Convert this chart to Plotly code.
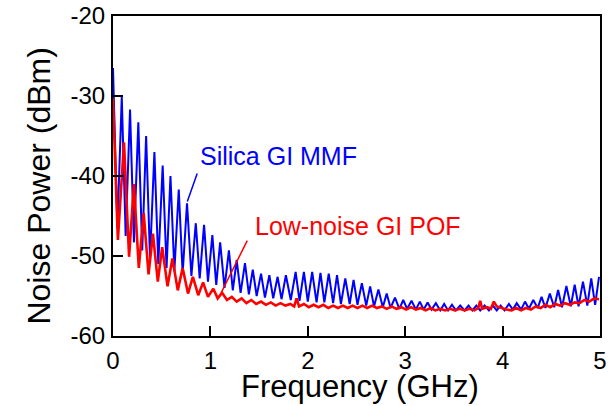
import plotly.graph_objects as go

# ---------------- data ----------------
# Silica GI MMF: start value, then ripple peaks and troughs
blue_start_f = [0.0]
blue_start_db = [-26.5]
blue_peak_f = [0.09, 0.175, 0.26, 0.34, 0.425, 0.51, 0.59, 0.675, 0.76, 0.85,
               0.935, 1.02, 1.10, 1.19, 1.27, 1.355, 1.435, 1.52, 1.605, 1.69,
               1.775, 1.875, 1.96, 2.045, 2.13, 2.215, 2.30, 2.385, 2.47, 2.555,
               2.64, 2.725, 2.81, 2.895, 2.98, 3.065, 3.15, 3.23, 3.315, 3.40,
               3.48, 3.565, 3.65, 3.73, 3.815, 3.90, 3.98, 4.065, 4.145, 4.23,
               4.315, 4.40, 4.485, 4.57, 4.655, 4.74, 4.825, 4.91, 4.99]
blue_peak_db = [-30.1, -31.7, -33.3, -35.0, -37.0, -38.7, -40.0, -41.7, -43.4, -45.9,
                -46.1, -47.4, -48.3, -49.3, -50.5, -50.9, -51.7, -52.2, -52.4, -52.6,
                -52.4, -52.0, -52.0, -52.0, -52.1, -52.2, -52.4, -52.8, -53.0, -53.4,
                -53.8, -54.2, -54.7, -55.2, -55.5, -55.6, -55.7, -55.8, -55.9, -56.0,
                -56.1, -56.2, -56.2, -56.2, -56.2, -56.2, -56.2, -56.0, -55.9, -55.7,
                -55.5, -55.1, -54.7, -54.25, -53.75, -53.6, -53.2, -52.8, -52.6]
blue_trough_f = [0.045, 0.13, 0.215, 0.30, 0.38, 0.465, 0.55, 0.63, 0.715, 0.805,
                 0.89, 0.975, 1.06, 1.145, 1.23, 1.31, 1.395, 1.475, 1.56, 1.645,
                 1.73, 1.825, 1.915, 2.0, 2.09, 2.17, 2.26, 2.34, 2.43, 2.51,
                 2.60, 2.68, 2.77, 2.85, 2.94, 3.02, 3.11, 3.19, 3.27, 3.36,
                 3.44, 3.52, 3.61, 3.69, 3.77, 3.86, 3.94, 4.02, 4.105, 4.19,
                 4.27, 4.36, 4.44, 4.53, 4.61, 4.70, 4.78, 4.87, 4.95]
blue_trough_db = [-46.5, -47.5, -48.3, -49.3, -50.3, -51.0, -51.5, -51.9, -52.2, -52.5,
                  -52.8, -53.2, -53.6, -54.0, -54.3, -54.6, -54.8, -55.0, -55.2, -55.3,
                  -55.4, -55.5, -55.6, -55.7, -55.8, -55.8, -55.9, -56.0, -56.0, -56.1,
                  -56.2, -56.3, -56.4, -56.5, -56.6, -56.6, -56.7, -56.7, -56.7, -56.8,
                  -56.8, -56.8, -56.8, -56.8, -56.8, -56.8, -56.8, -56.8, -56.7, -56.7,
                  -56.6, -56.5, -56.5, -56.4, -56.4, -56.3, -56.3, -56.2, -56.1]

# Low-noise GI POF
red_f = [0.0, 0.05, 0.113, 0.165, 0.215, 0.265, 0.315, 0.365, 0.41, 0.46,
         0.505, 0.56, 0.61, 0.665, 0.715, 0.77, 0.82, 0.875, 0.925, 0.975,
         1.03, 1.075, 1.12, 1.17, 1.22, 1.27, 1.32, 1.37, 1.42, 1.47,
         1.52, 1.57, 1.62, 1.67, 1.72, 1.77, 1.82, 1.86, 1.885, 1.91,
         1.96, 2.01, 2.06, 2.11, 2.16, 2.21, 2.26, 2.31, 2.36, 2.41,
         2.46, 2.51, 2.56, 2.61, 2.66, 2.71, 2.76, 2.81, 2.86, 2.91,
         2.96, 3.01, 3.06, 3.11, 3.16, 3.21, 3.26, 3.31, 3.36, 3.41,
         3.46, 3.51, 3.56, 3.61, 3.66, 3.71, 3.75, 3.77, 3.79, 3.84,
         3.88, 3.91, 3.94, 3.99, 4.04, 4.09, 4.14, 4.19, 4.24, 4.29,
         4.34, 4.39, 4.44, 4.49, 4.54, 4.59, 4.64, 4.69, 4.74, 4.79,
         4.84, 4.89, 4.94, 4.99]
red_db = [-30.3, -48.0, -35.8, -50.1, -41.0, -51.5, -44.6, -52.3, -47.2, -53.2,
          -48.9, -53.8, -50.3, -54.3, -51.5, -54.7, -52.6, -54.9, -53.3, -55.1,
          -54.1, -55.3, -54.6, -55.5, -55.1, -55.7, -55.3, -55.9, -55.5, -56.0,
          -55.7, -56.1, -55.8, -56.2, -55.9, -56.2, -56.0, -56.3, -55.3, -56.3,
          -56.0, -56.4, -56.1, -56.4, -56.1, -56.5, -56.2, -56.5, -56.2, -56.5,
          -56.2, -56.5, -56.2, -56.5, -56.2, -56.5, -56.3, -56.6, -56.3, -56.6,
          -56.4, -56.7, -56.4, -56.7, -56.5, -56.8, -56.5, -56.8, -56.6, -56.8,
          -56.6, -56.8, -56.6, -56.8, -56.6, -56.8, -56.5, -55.6, -56.6, -56.4,
          -56.6, -55.7, -56.3, -56.5, -56.7, -56.8, -56.5, -56.8, -56.5, -56.7,
          -56.3, -56.5, -56.1, -56.4, -56.0, -56.2, -55.9, -56.1, -55.8, -55.9,
          -55.5, -55.7, -55.3, -55.4]

x_ticks = [0, 1, 2, 3, 4, 5]
y_ticks = [-60, -50, -40, -30, -20]

# ---------------- build traces ----------------
blue_pts = sorted(zip(blue_start_f + blue_peak_f + blue_trough_f,
                      blue_start_db + blue_peak_db + blue_trough_db))
blue_x = [p[0] for p in blue_pts]
blue_y = [p[1] for p in blue_pts]

FONT = "Liberation Sans, Arial, sans-serif"

fig = go.Figure()
fig.add_trace(go.Scatter(x=blue_x, y=blue_y, mode="lines",
                         line=dict(color="#0000ff", width=2),
                         name="Silica GI MMF", showlegend=False))
fig.add_trace(go.Scatter(x=red_f, y=red_db, mode="lines",
                         line=dict(color="#ff0000", width=2.6),
                         name="Low-noise GI POF", showlegend=False))

axis_common = dict(showline=True, linecolor="black", linewidth=2, mirror=True,
                   ticks="inside", ticklen=10, tickwidth=2, tickcolor="black",
                   showgrid=False, zeroline=False, automargin=False,
                   ticklabeloverflow="allow",
                   tickfont=dict(family=FONT, size=24, color="black"))

fig.update_xaxes(range=[0, 5], tickvals=x_ticks, ticktext=[str(v) for v in x_ticks],
                 ticklabelstandoff=2, **axis_common)
fig.update_yaxes(range=[-60, -20], tickvals=y_ticks, ticktext=[str(v) for v in y_ticks],
                 ticklabelstandoff=1, **axis_common)

fig.update_layout(
    width=610, height=406,
    margin=dict(l=113, r=10, t=16, b=70, autoexpand=False),
    paper_bgcolor="white", plot_bgcolor="white",
    font=dict(family=FONT, color="black"),
    annotations=[
        dict(text="Frequency (GHz)", xref="paper", yref="paper", x=0.507, y=-0.158,
             xanchor="center", yanchor="middle", showarrow=False, borderpad=0,
             font=dict(size=31, family=FONT, color="black")),
        dict(text="Noise Power (dBm)", xref="paper", yref="paper", x=-0.152, y=0.47,
             xanchor="center", yanchor="middle", showarrow=False, textangle=-90,
             font=dict(size=32, family=FONT, color="black")),
        dict(text="Silica GI MMF", xref="x", yref="y", x=0.87, y=-37.5,
             xanchor="left", yanchor="middle", showarrow=False,
             font=dict(size=25, family=FONT, color="#0000ff")),
        dict(text="Low-noise GI POF", xref="x", yref="y", x=1.44, y=-46.25,
             xanchor="left", yanchor="middle", showarrow=False,
             font=dict(size=25, family=FONT, color="#ff0000")),
        dict(text="", x=0.763, y=-43.2, ax=0.87, ay=-39.5, xref="x", yref="y",
             axref="x", ayref="y", showarrow=True, arrowhead=0, arrowwidth=1.5,
             arrowcolor="#0000ff"),
        dict(text="", x=1.11, y=-54.6, ax=1.386, ay=-47.9, xref="x", yref="y",
             axref="x", ayref="y", showarrow=True, arrowhead=0, arrowwidth=1.5,
             arrowcolor="#ff0000"),
    ],
)

# remove the default 8 px page margin so the figure fills the window exactly
fig.write_html("out.html", config={"displayModeBar": False},
               post_script="document.body.style.margin='0';document.body.style.overflow='hidden';")
